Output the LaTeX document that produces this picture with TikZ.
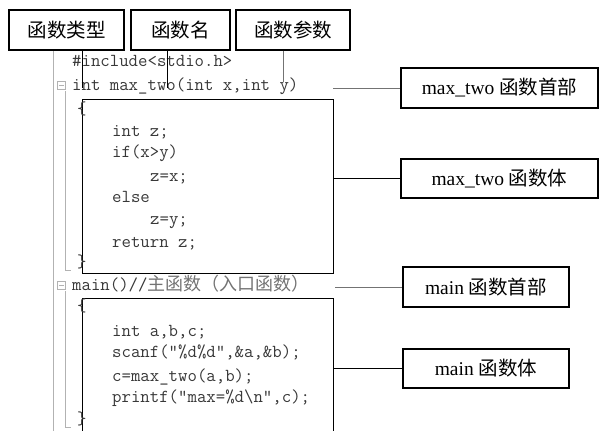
\documentclass[tikz,border=0pt]{standalone}
\usepackage{fontspec}
\setmainfont{Liberation Serif}
\newfontfamily\cjk{Noto Sans CJK SC}
\begin{document}
\begin{tikzpicture}[x=1pt,y=-1pt,
  label box/.style={draw=black,line width=1.4pt,inner sep=0pt,
    font=\fontsize{19.5}{22}\selectfont},
  code box/.style={draw=black,line width=0.9pt,inner sep=0pt,anchor=north west},
  code/.style={anchor=base west,inner sep=0pt,text=black!78,
    font=\fontsize{18.3}{22}\ttfamily},
  gutter/.style={draw=black!30,line width=0.8pt},
  link/.style={draw=black,line width=0.8pt},
  greylink/.style={draw=black!55,line width=0.8pt}]
\useasboundingbox (0,0) rectangle (600,431);
\clip (0,0) rectangle (600,431);

% editor gutter
\draw[gutter] (53,50) -- (53,431);
\node[gutter,minimum size=8pt,inner sep=0pt] (fold1) at (61,85) {};
\draw[gutter] (fold1.center) ++(-2.5,0) -- ++(5,0);
\node[gutter,minimum size=8pt,inner sep=0pt] (fold2) at (61,285) {};
\draw[gutter] (fold2.center) ++(-2.5,0) -- ++(5,0);
\draw[gutter] (65,91) -- (65,270) -- (71,270);
\draw[gutter] (65,291) -- (65,427) -- (71,427);

% boxes round the two function bodies
\node[code box,minimum width=251pt,minimum height=174pt] (body1) at (82,99) {};
\node[code box,minimum width=251pt,minimum height=160pt] (body2) at (82,298) {};

% source code
\node[code] (l1) at (72,66) {\#include<stdio.h>};
\node[code] (l2) at (72,90) {int max\_two(int x,int y)};
\node[code] (l3) at (77,114) {\{};
\node[code] (l4) at (112,136) {int z;};
\node[code] (l5) at (112,157) {if(x>y)};
\node[code] (l6) at (150,181) {z=x;};
\node[code] (l7) at (112,202) {else};
\node[code] (l8) at (150,224) {z=y;};
\node[code] (l9) at (112,247) {return z;};
\node[code] (l10) at (77,267) {\}};
\node[code] (l11) at (72,290) {main()//{\color{black!55}\fontsize{18}{22}\cjk 主函数（入口函数）}};
\node[code] (l12) at (77,311) {\{};
\node[code] (l13) at (112,336) {int a,b,c;};
\node[code] (l14) at (112,357) {scanf(“\%d\%d”,\&a,\&b);};
\node[code] (l15) at (112,381) {c=max\_two(a,b);};
\node[code] (l16) at (112,402) {printf(“max=\%d\textbackslash n”,c);};
\node[code] (l17) at (77,424) {\}};

% labels above the code
\node[label box,minimum width=115pt,minimum height=40pt] (type) at (66.5,30) {\cjk 函数类型};
\node[label box,minimum width=99pt,minimum height=40pt] (name) at (180.5,30) {\cjk 函数名};
\node[label box,minimum width=114pt,minimum height=40pt] (param) at (293,30) {\cjk 函数参数};
\coordinate (typeend) at (82,88);
\coordinate (nameend) at (167,88);
\coordinate (paramend) at (283,82);
\draw[link] (typeend |- type.south) -- (typeend);
\draw[link] (nameend |- name.south) -- (nameend);
\draw[greylink] (paramend |- param.south) -- (paramend);

% labels on the right
\node[label box,minimum width=197pt,minimum height=40pt] (head1) at (499.5,88) {max\_two {\cjk 函数首部}};
\node[label box,minimum width=197pt,minimum height=39pt] (part1) at (499.5,178.5) {max\_two {\cjk 函数体}};
\node[label box,minimum width=166pt,minimum height=40pt] (head2) at (486,287) {main {\cjk 函数首部}};
\node[label box,minimum width=166pt,minimum height=39pt] (part2) at (486,368.5) {main {\cjk 函数体}};
\coordinate (h1start) at (333,88);
\coordinate (h2start) at (335,287);
\draw[greylink] (h1start) -- (head1.west);
\draw[link] (part1.west -| body1.east) -- (part1.west);
\draw[greylink] (h2start) -- (head2.west);
\draw[link] (part2.west -| body2.east) -- (part2.west);
\end{tikzpicture}
\end{document}
